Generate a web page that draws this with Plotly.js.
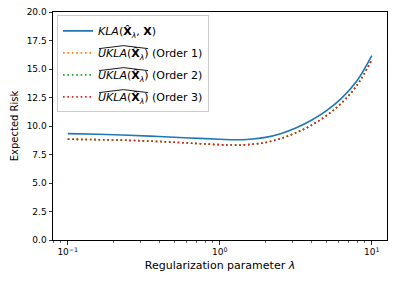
<!DOCTYPE html>
<html>
<head>
<meta charset="utf-8">
<script src="https://cdn.plot.ly/plotly-3.0.1.min.js"></script>
<style>html,body{margin:0;padding:0;background:#fff;}#plot{width:399px;height:282px;}</style>
</head>
<body>
<div id="plot"></div>
<script>
// Data
const lambdas = [0.1, 0.158, 0.251, 0.398, 0.631, 1.0, 1.259, 1.585, 1.995, 2.512, 3.162, 3.981, 5.012, 6.310, 7.943, 10.0];
const klaTrue = [9.33, 9.27, 9.19, 9.08, 8.95, 8.84, 8.79, 8.84, 9.00, 9.33, 9.83, 10.48, 11.32, 12.42, 13.92, 16.18];
const uklaOrder1 = [8.84, 8.80, 8.74, 8.64, 8.50, 8.36, 8.33, 8.38, 8.55, 8.90, 9.40, 10.05, 10.90, 12.00, 13.52, 15.80];
const uklaOrder2 = [8.84, 8.80, 8.74, 8.64, 8.50, 8.36, 8.33, 8.38, 8.55, 8.90, 9.40, 10.05, 10.90, 12.00, 13.52, 15.80];
const uklaOrder3 = [8.84, 8.80, 8.74, 8.64, 8.50, 8.36, 8.33, 8.38, 8.55, 8.90, 9.40, 10.05, 10.90, 12.00, 13.52, 15.80];
const seriesNames = [
  "<i>KLA</i>(<b>X̂</b><sub><i>λ</i></sub>, <b>X</b>)",
  "<i>UKLA</i>(<b>X̂</b><sub><i>λ</i></sub>) (Order 1)",
  "<i>UKLA</i>(<b>X̂</b><sub><i>λ</i></sub>) (Order 2)",
  "<i>UKLA</i>(<b>X̂</b><sub><i>λ</i></sub>) (Order 3)"
];
const xTickVals = [0.1, 1, 10];
const xTickText = ["10<sup>−1</sup>", "10<sup>0</sup>", "10<sup>1</sup>"];
const xMinorVals = [0.08, 0.09, 0.2, 0.3, 0.4, 0.5, 0.6, 0.7, 0.8, 0.9, 2, 3, 4, 5, 6, 7, 8, 9];

const font = "DejaVu Sans, sans-serif";
const dotted = "1.6px,2.8px";
const mk = (y, name, color, dash, g) => ({
  x: lambdas, y: y, name: name, type: 'scatter', mode: 'lines', legendgroup: g,
  line: {color: color, width: 1.6, dash: dash, shape: 'spline', smoothing: 1}
});
const data = [
  mk(klaTrue, seriesNames[0], '#1f77b4', 'solid', 'a'),
  mk(uklaOrder1, seriesNames[1], '#ff7f0e', dotted, 'b'),
  mk(uklaOrder2, seriesNames[2], '#2ca02c', dotted, 'c'),
  mk(uklaOrder3, seriesNames[3], '#d62728', dotted, 'd')
];
const axisCommon = {
  showline: true, linecolor: '#000', linewidth: 1, mirror: true,
  ticks: 'outside', ticklen: 3.5, tickwidth: 0.8, tickcolor: '#000',
  showgrid: false, zeroline: false,
  tickfont: {family: font, size: 9, color: '#000'}
};
const layout = {
  width: 399, height: 282,
  margin: {l: 53, r: 12, t: 12, b: 42},
  paper_bgcolor: '#fff', plot_bgcolor: '#fff',
  font: {family: font, color: '#000'},
  showlegend: true,
  legend: {
    x: 0.012, y: 0.985, xanchor: 'left', yanchor: 'top',
    bgcolor: 'rgba(255,255,255,0.8)', bordercolor: '#cccccc', borderwidth: 1,
    font: {family: font, size: 11, color: '#000'},
    tracegroupgap: 3, itemwidth: 30
  },
  xaxis: Object.assign({}, axisCommon, {
    type: 'log', range: [-1.097, 1.1],
    tickmode: 'array', tickvals: xTickVals, ticktext: xTickText,
    minor: {tickmode: 'array', tickvals: xMinorVals, ticks: 'outside', ticklen: 2, tickwidth: 0.6, tickcolor: '#000'},
    title: {text: 'Regularization parameter <i>λ</i>', font: {family: font, size: 11, color: '#000'}, standoff: 5}
  }),
  yaxis: Object.assign({}, axisCommon, {
    range: [0, 20], dtick: 2.5, tick0: 0, tickformat: '.1f',
    title: {text: 'Expected Risk', font: {family: font, size: 10, color: '#000'}, standoff: 6}
  })
};

function addHats() {
  const texts = document.querySelectorAll('#plot .legend text.legendtext');
  texts.forEach(t => {
    const s = t.textContent;
    if (s.indexOf('UKLA') !== 0) return;
    const end = s.indexOf(')');
    try {
      const p0 = t.getStartPositionOfChar(0);
      const p1 = t.getEndPositionOfChar(end);
      const x0 = p0.x + 1, x1 = p1.x - 0.5;
      const yb = p0.y - 11 * 0.78;
      const path = document.createElementNS('http://www.w3.org/2000/svg', 'path');
      path.setAttribute('d', 'M' + x0 + ',' + yb + ' L' + ((x0 + x1) / 2) + ',' + (yb - 3) + ' L' + x1 + ',' + yb);
      path.setAttribute('fill', 'none');
      path.setAttribute('stroke', '#000');
      path.setAttribute('stroke-width', '0.9');
      const tr = t.getAttribute('transform');
      if (tr) path.setAttribute('transform', tr);
      t.parentNode.appendChild(path);
    } catch (e) {}
  });
}
Plotly.newPlot('plot', data, layout, {displayModeBar: false, staticPlot: true}).then(addHats);
</script>
</body>
</html>
